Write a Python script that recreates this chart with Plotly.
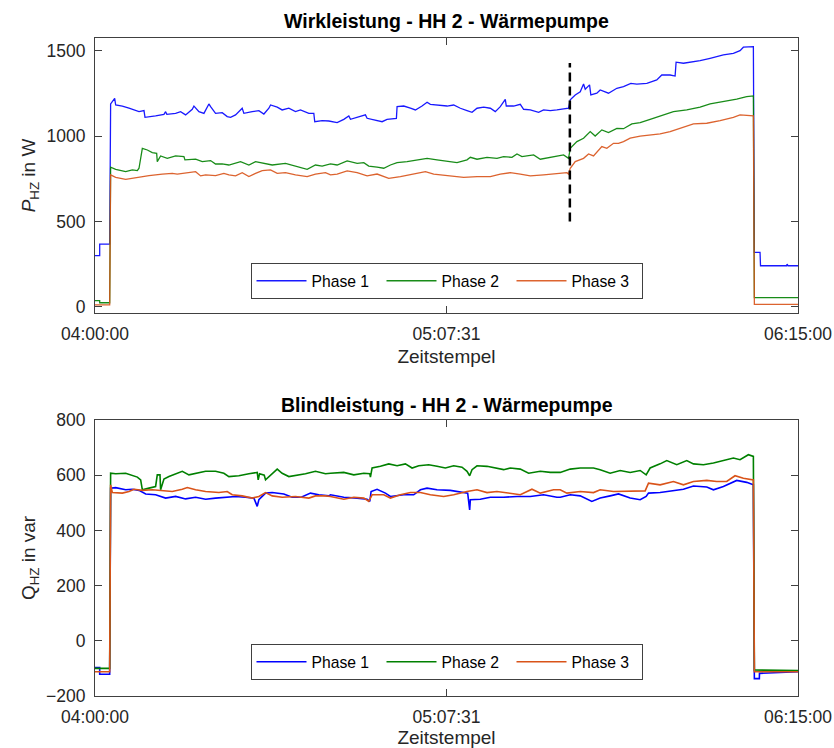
import pandas as pd
import plotly.graph_objects as go

# ---------------- data: (minutes after 04:00:00, value) ----------------
BASE = "2021-01-01 04:00:00"

# Wirkleistung (W)
p1 = [(0,300),(0.9,300),(0.9,367),(2.82,367),(3.0,1189),(3.78,1222),(3.97,1183),(5.25,1177),(6.53,1164),(7.49,1154),
      (8.45,1144),(9.41,1150),(9.6,1111),(11.64,1119),(13.24,1128),(13.56,1144),(13.8,1128),(15.48,1134),(16.44,1144),
      (17.4,1125),(18.68,1158),(19.0,1177),(19.96,1144),(20.92,1134),(21.87,1189),(22.2,1173),(23.15,1134),(24.43,1138),
      (25.39,1115),(26.03,1111),(26.99,1125),(28.27,1164),(28.59,1134),(30.19,1144),(31.47,1150),(32.43,1130),(33.39,1164),
      (33.71,1183),(34.99,1170),(35.94,1154),(37.22,1164),(38.5,1144),(39.46,1154),(41.06,1134),(42.02,1134),(42.2,1085),
      (43.62,1091),(44.9,1089),(46.5,1080),(47.78,1099),(48.74,1119),(49.06,1099),(50.34,1111),(51.93,1125),(52.25,1105),
      (53.53,1095),(55.13,1085),(56.09,1099),(57.88,1105),(58.01,1173),(59.29,1177),(60.57,1164),(61.53,1154),(62.8,1177),
      (63.77,1199),(64.4,1187),(66.32,1183),(67.6,1177),(68.88,1183),(70.16,1164),(71.44,1150),(72.4,1140),(73.36,1164),
      (74.64,1170),(75.92,1164),(76.87,1144),(77.83,1173),(78.79,1216),(78.98,1177),(80.39,1177),(81.67,1187),(82.31,1158),
      (83.59,1154),(85.19,1140),(86.15,1154),(87.43,1150),(88.7,1154),(89.98,1158),(90.94,1164),(91.26,1213),(92.22,1242),
      (93.18,1261),(93.82,1306),(94.14,1275),(94.97,1301),(95.22,1242),(96.37,1252),(97.01,1271),(98.61,1252),(100.21,1281),
      (101.49,1291),(102.9,1310),(104.05,1305),(105.97,1310),(107.88,1330),(108.84,1359),(110.44,1359),(111.4,1353),
      (111.59,1434),(113.0,1428),(114.92,1437),(116.2,1443),(118.12,1457),(120.67,1477),(122.59,1486),(123.87,1502),
      (124.51,1522),(126.43,1525),(126.62,319),(127.71,319),(127.8,240),(132.82,240),(132.9,250),(133.1,240),(135.06,240)]

p2 = [(0,35),(0.9,35),(0.9,23),(2.82,23),(3.0,818),(3.97,806),(5.89,792),(7.17,802),(8.13,798),(8.45,812),(9.09,929),
      (10.05,919),(11.0,904),(11.84,900),(11.96,851),(12.6,884),(13.88,870),(15.48,884),(17.08,880),(17.27,861),(19.32,865),
      (20.6,851),(22.2,857),(23.15,837),(24.4,837),(25.71,831),(27.95,851),(29.55,831),(30.83,851),(32.75,841),(34.03,831),
      (36.58,841),(38.5,825),(40.74,806),(42.34,831),(43.62,825),(45.22,837),(46.5,831),(48.42,855),(50.34,841),(51.62,845),
      (52.57,825),(54.17,818),(55.45,812),(56.73,831),(58.01,845),(59.93,851),(61.85,861),(63.77,870),(65.68,861),(67.6,851),
      (69.52,845),(71.44,861),(72.08,876),(73.36,865),(75.28,876),(77.19,870),(78.47,880),(80.07,876),(81.03,896),(81.99,880),
      (84.23,890),(85.51,865),(87.43,876),(89.98,890),(90.94,870),(91.26,929),(92.54,968),(93.82,988),(95.1,1027),(96.05,1001),
      (97.33,1037),(98.61,1021),(100.21,1046),(101.49,1044),(103.09,1072),(104.69,1080),(106.6,1099),(108.52,1119),
      (111.08,1144),(113.64,1154),(116.2,1170),(118.12,1189),(120.67,1203),(123.23,1218),(125.15,1232),(126.43,1236),
      (126.62,53),(135.06,53)]

p3 = [(0,10),(2.82,10),(3.0,773),(3.97,759),(5.89,747),(7.17,753),(8.45,763),(10.37,769),(12.92,777),(14.84,782),(15.8,778),
      (17.4,786),(19.32,792),(20.28,767),(21.24,773),(23.15,769),(24.75,782),(25.71,773),(26.99,767),(28.27,786),(29.55,763),
      (30.83,782),(32.11,798),(33.71,802),(34.99,782),(36.58,786),(38.5,773),(40.74,763),(42.34,778),(44.26,786),(45.22,773),
      (46.5,778),(48.42,796),(50.34,786),(52.25,767),(54.17,778),(56.41,753),(58.65,763),(61.21,778),(63.45,792),(65.04,778),
      (66.96,773),(68.88,767),(70.8,759),(73.36,763),(75.92,763),(77.83,778),(79.75,786),(81.67,777),(83.59,767),(86.15,773),
      (88.7,782),(90.62,786),(90.94,778),(91.26,812),(92.22,851),(93.82,870),(94.78,896),(95.73,884),(97.33,939),(98.29,929),
      (99.57,958),(100.53,958),(101.49,968),(102.77,988),(104.69,1001),(106.6,1007),(108.52,1013),(110.44,1027),(112.36,1046),
      (114.92,1072),(117.48,1076),(120.04,1091),(122.59,1111),(123.87,1125),(126.43,1119),(126.62,14),(135.06,14)]

# Blindleistung (var)
q1 = [(0,-97),(0.9,-97),(0.9,-121),(2.82,-121),(3.0,553),(3.97,555),(5.89,547),(7.17,549),(8.45,545),(9.73,532),(11.64,529),
      (13.56,517),(15.48,523),(17.4,514),(19.32,520),(21.24,513),(23.15,517),(25.07,520),(26.99,523),(28.91,520),(30.51,517),
      (31.15,487),(31.47,511),(32.75,535),(34.03,537),(36.26,532),(37.86,520),(39.6,520),(41.38,535),(42.98,529),(44.9,525),
      (45.22,529),(47.78,520),(50.34,517),(52.25,513),(52.77,505),(53.02,541),(54.17,549),(55.77,535),(56.73,523),(59.29,529),
      (61.2,529),(62.49,547),(63.76,553),(65.68,547),(68.24,545),(70.8,537),(71.57,535),(71.95,474),(72.08,511),(73.99,513),
      (75.92,520),(78.47,520),(81.03,523),(83.59,523),(86.15,529),(88.7,520),(89.34,520),(91.26,529),(93.18,525),(95.41,505),
      (97.01,517),(98.93,525),(100.53,532),(102.77,517),(104.69,511),(105.84,523),(106.29,535),(108.52,537),(111.08,545),
      (113.0,549),(114.92,561),(117.48,557),(118.76,547),(120.67,559),(123.23,581),(125.15,574),(126.43,565),(126.62,-137),
      (127.58,-137),(127.6,-118),(135.06,-112)]

q2 = [(0,-100),(2.82,-100),(3.0,607),(3.97,605),(5.89,607),(7.17,598),(8.13,593),(8.77,583),(9.09,547),(10.37,553),
      (11.64,559),(11.96,601),(12.48,601),(12.6,547),(13.24,586),(14.2,595),(15.48,605),(16.76,614),(18.04,601),(19.32,607),
      (21.24,614),(23.15,614),(24.75,607),(25.71,595),(27.63,598),(29.55,605),(31.15,610),(31.34,583),(31.6,605),(32.5,600),
      (32.75,583),(34.99,622),(35.94,607),(37.22,595),(38.5,598),(40.42,605),(42.34,614),(44.26,605),(45.22,607),(47.78,610),
      (49.7,601),(51.62,607),(52.77,605),(52.89,593),(53.21,626),(54.81,632),(56.41,641),(58.01,634),(59.61,641),(60.89,626),
      (62.17,634),(64.08,638),(65.68,632),(67.28,626),(68.88,634),(70.48,629),(71.44,614),(71.95,598),(72.4,620),(73.36,634),
      (75.28,632),(77.19,626),(78.47,620),(79.75,626),(81.67,622),(83.27,607),(85.51,614),(87.43,610),(89.34,610),(91.26,622),
      (93.18,626),(95.73,626),(97.01,620),(98.93,607),(100.85,617),(102.77,610),(104.69,617),(105.84,601),(106.6,626),
      (108.52,641),(109.8,653),(111.72,638),(113.64,653),(114.92,641),(116.84,638),(118.76,644),(120.67,653),(122.59,662),
      (123.87,656),(125.47,674),(126.43,668),(126.62,-106),(135.06,-108)]

q3 = [(0,-112),(2.82,-112),(3.0,565),(3.33,537),(5.25,535),(6.53,541),(7.49,549),(9.09,545),(11.0,547),(12.92,545),
      (14.84,541),(16.76,549),(17.72,555),(19.32,547),(21.24,541),(23.79,537),(25.39,541),(26.35,529),(28.27,525),(30.19,517),
      (31.47,523),(32.75,537),(34.03,525),(35.94,520),(38.5,523),(41.06,517),(42.34,525),(44.26,525),(45.22,523),(47.78,513),
      (49.7,520),(51.62,517),(52.57,505),(53.21,529),(55.45,529),(56.73,517),(58.65,529),(60.57,537),(62.49,537),(64.4,529),
      (66.96,523),(68.88,529),(71.44,541),(73.36,547),(75.28,537),(77.19,541),(79.11,537),(81.67,529),(83.91,549),(85.51,535),
      (88.06,547),(89.34,547),(90.62,535),(93.18,541),(95.73,537),(97.01,547),(99.57,541),(102.13,541),(104.69,541),
      (105.65,543),(106.29,571),(108.52,565),(111.08,577),(113.0,565),(114.92,577),(117.48,581),(119.4,577),(121.31,577),
      (122.91,598),(124.51,589),(126.43,583),(126.62,-112),(135.06,-112)]

marker_t = [91.19, 91.19]
marker_v = [500, 1430]

series_names = ["Phase 1", "Phase 2", "Phase 3"]
colors = ["#0000FF", "#008000", "#D95319"]
x_tick_min = [0, 67.5, 135]
x_tick_text = ["04:00:00", "05:07:31", "06:15:00"]

# ---------------- helpers ----------------
base = pd.Timestamp(BASE)
def tt(mins):
    return [base + pd.Timedelta(minutes=m) for m in mins]

def split(pairs):
    return [a for a, _ in pairs], [b for _, b in pairs]

FONT = "Liberation Sans, Arial, Helvetica, sans-serif"
TXT = "#262626"
AX = "#404040"

fig = go.Figure()
for i, s in enumerate([p1, p2, p3]):
    t, v = split(s)
    fig.add_trace(go.Scatter(x=tt(t), y=v, mode="lines", name=series_names[i],
                             line=dict(color=colors[i], width=1.3), xaxis="x", yaxis="y",
                             legend="legend", opacity=0.9))
fig.add_trace(go.Scatter(x=tt(marker_t), y=marker_v, mode="lines", showlegend=False,
                         line=dict(color="black", width=2.5, dash="9px,5px"), xaxis="x", yaxis="y"))
for i, s in enumerate([q1, q2, q3]):
    t, v = split(s)
    fig.add_trace(go.Scatter(x=tt(t), y=v, mode="lines", name=series_names[i],
                             line=dict(color=colors[i], width=1.6), xaxis="x2", yaxis="y2",
                             legend="legend2"))

xr = [base, base + pd.Timedelta(minutes=135)]
xt = tt(x_tick_min)
axis_common = dict(showline=True, linecolor=AX, linewidth=1, mirror="ticks", ticks="inside",
                   ticklen=7, tickcolor=AX, showgrid=False, zeroline=False, automargin=False,
                   tickfont=dict(family=FONT, size=17.5, color=TXT))

fig.update_layout(
    width=834, height=748,
    margin=dict(l=95, r=36, t=38, b=52, autoexpand=False),
    paper_bgcolor="white", plot_bgcolor="white",
    font=dict(family=FONT, color=TXT),
    xaxis=dict(domain=[0, 1], anchor="y", range=xr, tickvals=xt, ticktext=x_tick_text,
               title=dict(text="Zeitstempel", font=dict(size=19, color=TXT), standoff=6),
               ticklabelstandoff=5, **axis_common),
    yaxis=dict(domain=[0.5821, 1], anchor="x", range=[-37, 1576], tickvals=[0, 500, 1000, 1500],
               title=dict(text="<i>P</i><sub>HZ</sub> in W", font=dict(size=19, color=TXT), standoff=5),
               ticklabelstandoff=5, **axis_common),
    xaxis2=dict(domain=[0, 1], anchor="y2", range=xr, tickvals=xt, ticktext=x_tick_text,
                title=dict(text="Zeitstempel", font=dict(size=19, color=TXT), standoff=6),
                ticklabelstandoff=5, **axis_common),
    yaxis2=dict(domain=[0, 0.4195], anchor="x2", range=[-200, 800],
                tickvals=[-200, 0, 200, 400, 600, 800],
                title=dict(text="Q<sub>HZ</sub> in var", font=dict(size=19, color=TXT), standoff=5),
                ticklabelstandoff=5, **axis_common),
    legend=dict(orientation="h", x=0.5, xanchor="center", y=0.6033, yanchor="bottom",
                bgcolor="white", bordercolor=AX, borderwidth=1, itemwidth=50,
                font=dict(family=FONT, size=15.7, color="black"),
                entrywidth=65, entrywidthmode="pixels"),
    legend2=dict(orientation="h", x=0.5, xanchor="center", y=0.0243, yanchor="bottom",
                 bgcolor="white", bordercolor=AX, borderwidth=1, itemwidth=50,
                 font=dict(family=FONT, size=15.7, color="black"),
                 entrywidth=65, entrywidthmode="pixels"),
    annotations=[
        dict(text="<b>Wirkleistung - HH 2 - Wärmepumpe</b>", xref="paper", yref="paper",
             x=0.5, y=1.0258, xanchor="center", yanchor="middle", showarrow=False,
             font=dict(family=FONT, size=19.5, color="black")),
        dict(text="<b>Blindleistung - HH 2 - Wärmepumpe</b>", xref="paper", yref="paper",
             x=0.5, y=0.4422, xanchor="center", yanchor="middle", showarrow=False,
             font=dict(family=FONT, size=19.5, color="black")),
    ],
)

fig.write_html("out.html")
